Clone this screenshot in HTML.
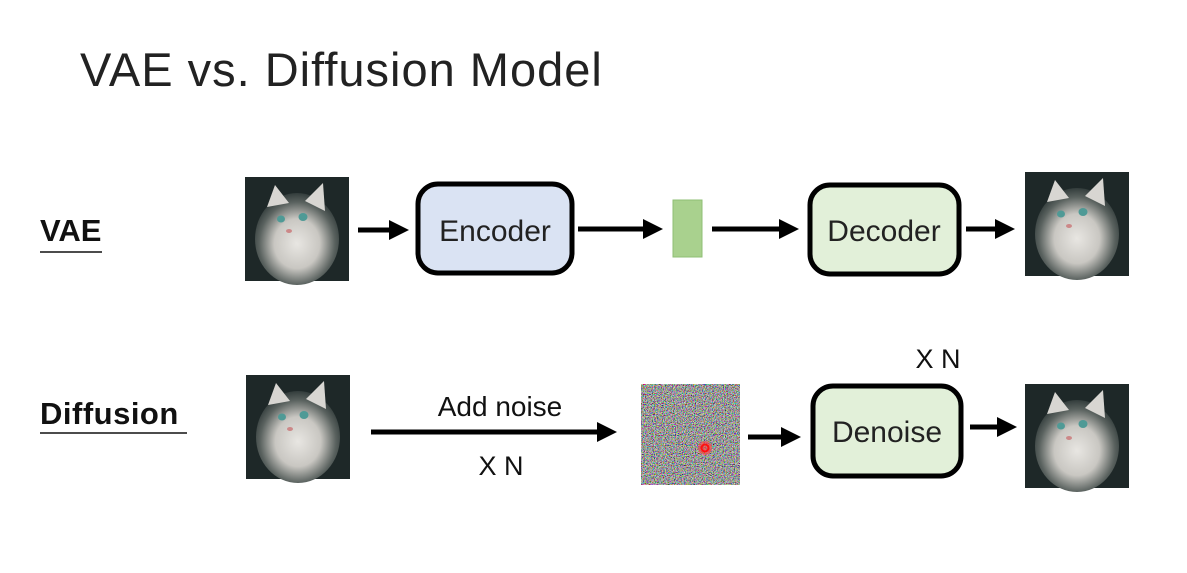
<!DOCTYPE html>
<html><head><meta charset="utf-8"><style>
html,body{margin:0;padding:0;background:#fff;}
svg{display:block;font-family:"Liberation Sans",sans-serif;}
</style></head><body>
<svg width="1187" height="573" viewBox="0 0 1187 573" xmlns="http://www.w3.org/2000/svg">
<defs>
<radialGradient id="cat" cx="0.5" cy="0.55" r="0.6">
<stop offset="0" stop-color="#e8e6e2"/><stop offset="0.45" stop-color="#c9c7c2"/><stop offset="0.75" stop-color="#5a625f"/><stop offset="1" stop-color="#1f2a2a"/>
</radialGradient>
<g id="catimg">
<rect width="104" height="104" fill="#1e2828"/>
<ellipse cx="52" cy="62" rx="42" ry="46" fill="url(#cat)"/>
<polygon points="22,30 30,8 44,26" fill="#d8d6d2"/>
<polygon points="60,24 78,6 80,34" fill="#d8d6d2"/>
<ellipse cx="36" cy="42" rx="4" ry="3.5" fill="#4f9a96"/>
<ellipse cx="58" cy="40" rx="4.5" ry="4" fill="#4f9a96"/>
<ellipse cx="44" cy="54" rx="3" ry="2" fill="#c88"/>
</g>
<filter id="nz" x="0" y="0" width="100%" height="100%">
<feTurbulence type="fractalNoise" baseFrequency="0.9" numOctaves="2" seed="3"/>
<feColorMatrix type="matrix" values="1.8 0 0 0 -0.55  0 1.8 0 0 -0.55  0 0 1.8 0 -0.55  0 0 0 0 1"/>
</filter>
<marker id="ah" markerWidth="4" markerHeight="4" refX="3" refY="2" orient="auto" markerUnits="strokeWidth">
<path d="M0,0 L4,2 L0,4 z" fill="#000"/>
</marker>
</defs>
<text x="80" y="86" font-size="47" fill="#222" letter-spacing="1">VAE vs. Diffusion Model</text>
<text x="40" y="241" font-size="31" font-weight="bold" fill="#111">VAE</text>
<line x1="40" y1="252" x2="102" y2="252" stroke="#111" stroke-width="1.5"/>
<text x="40" y="424" font-size="31" font-weight="bold" fill="#111" letter-spacing="0.5">Diffusion</text>
<line x1="40" y1="433" x2="187" y2="433" stroke="#111" stroke-width="1.5"/>

<use href="#catimg" transform="translate(245,177)"/>
<use href="#catimg" transform="translate(1025,172)"/>
<use href="#catimg" transform="translate(246,375)"/>
<use href="#catimg" transform="translate(1025,384)"/>

<g stroke="#000" stroke-width="5" marker-end="url(#ah)">
<line x1="358" y1="230" x2="404" y2="230"/>
<line x1="578" y1="229" x2="658" y2="229"/>
<line x1="712" y1="229" x2="794" y2="229"/>
<line x1="966" y1="229" x2="1010" y2="229"/>
<line x1="371" y1="432" x2="612" y2="432"/>
<line x1="748" y1="437" x2="796" y2="437"/>
<line x1="970" y1="427" x2="1012" y2="427"/>
</g>

<rect x="418" y="184" width="154" height="89" rx="20" fill="#dae3f3" stroke="#000" stroke-width="5"/>
<text x="495" y="241" font-size="30" text-anchor="middle" fill="#222">Encoder</text>
<rect x="673" y="200" width="29" height="57" fill="#a9d18e" stroke="#8fbf74" stroke-width="1"/>
<rect x="810" y="185" width="149" height="89" rx="20" fill="#e2f0d9" stroke="#000" stroke-width="5"/>
<text x="884" y="241" font-size="30" text-anchor="middle" fill="#222">Decoder</text>

<text x="500" y="416" font-size="28" text-anchor="middle" fill="#111">Add noise</text>
<text x="501" y="475" font-size="27" text-anchor="middle" fill="#111">X N</text>
<rect x="641" y="384" width="99" height="101" filter="url(#nz)"/>
<circle cx="705" cy="448" r="7" fill="#ff4040" opacity="0.6"/>
<circle cx="705" cy="448" r="3.5" fill="none" stroke="#ff1010" stroke-width="2"/>
<rect x="813" y="386" width="148" height="90" rx="20" fill="#e2f0d9" stroke="#000" stroke-width="5"/>
<text x="887" y="442" font-size="30" text-anchor="middle" fill="#222">Denoise</text>
<text x="938" y="368" font-size="27" text-anchor="middle" fill="#111">X N</text>
</svg>
</body></html>
